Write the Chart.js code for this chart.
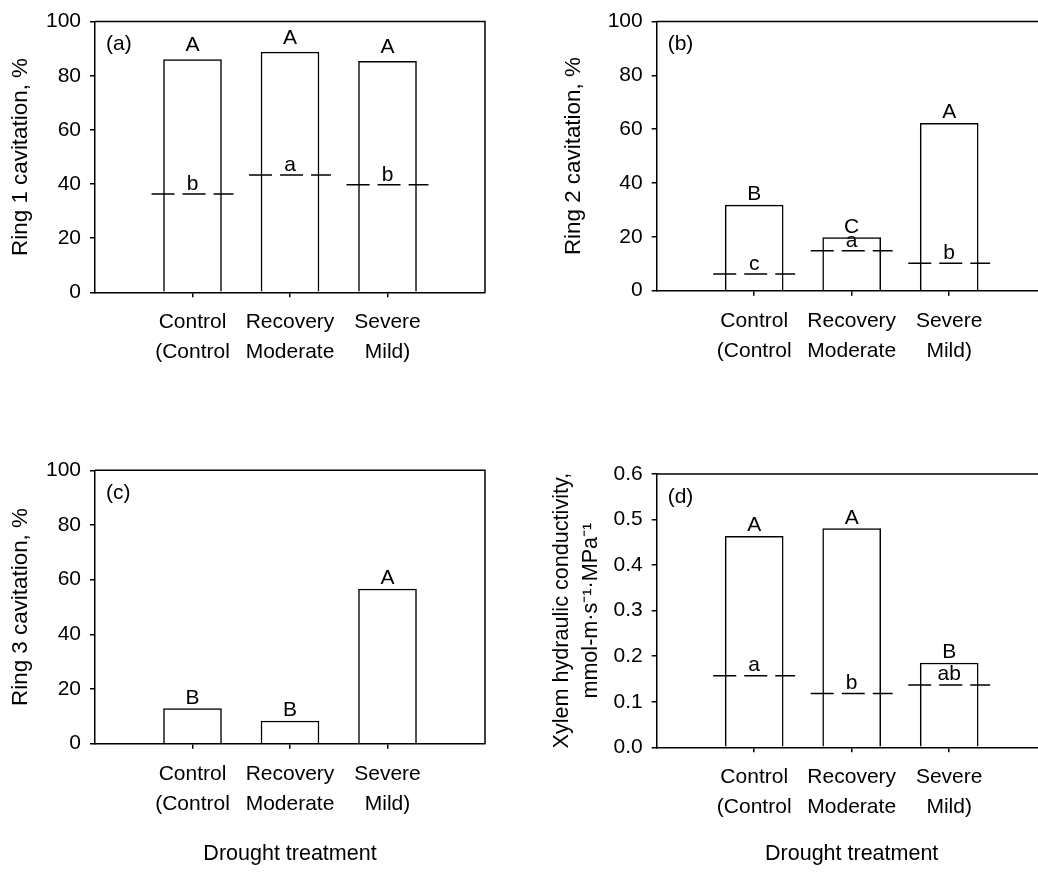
<!DOCTYPE html>
<html>
<head>
<meta charset="utf-8">
<script src="https://cdn.jsdelivr.net/npm/chart.js@4.4.0/dist/chart.umd.min.js"></script>
<style>
  html, body { margin: 0; padding: 0; background: #ffffff; overflow: hidden; width: 1038px; height: 876px; }
  canvas { position: absolute; }
</style>
</head>
<body>
<canvas id="panelA" width="520" height="440" style="left:0px;top:0px"></canvas>
<canvas id="panelB" width="600" height="440" style="left:520px;top:0px"></canvas>
<canvas id="panelC" width="520" height="436" style="left:0px;top:440px"></canvas>
<canvas id="panelD" width="600" height="436" style="left:520px;top:440px"></canvas>
<script>
// ---------------- data ----------------
const categories = ['Control', 'Recovery', 'Severe'];
const categoriesLine2 = ['(Control', 'Moderate', 'Mild)'];

const ring1Bars = [86.0, 88.7, 85.3];
const ring1Dash = [36.3, 43.3, 39.7];
const ring1BarLetters = ['A', 'A', 'A'];
const ring1DashLetters = ['b', 'a', 'b'];

const ring2Bars = [31.8, 19.7, 62.2];
const ring2Dash = [6.2, 14.8, 10.2];
const ring2BarLetters = ['B', 'C', 'A'];
const ring2DashLetters = ['c', 'a', 'b'];

const ring3Bars = [12.8, 8.3, 56.6];
const ring3BarLetters = ['B', 'B', 'A'];

const conductBars = [0.463, 0.480, 0.185];
const conductDash = [0.157, 0.118, 0.137];
const conductBarLetters = ['A', 'A', 'B'];
const conductDashLetters = ['a', 'b', 'ab'];

const percentTicks = [0, 20, 40, 60, 80, 100];
const conductTicks = [0.0, 0.1, 0.2, 0.3, 0.4, 0.5, 0.6];

// ---------------- styling ----------------
const FONT = 'Liberation Sans, Arial, Helvetica, sans-serif';
const INK = '#000000';

const framePlugin = {
  id: 'frame',
  beforeDatasetsDraw(chart) {
    const { ctx, chartArea: a } = chart;
    ctx.save();
    ctx.strokeStyle = INK;
    ctx.lineWidth = 1.5;
    ctx.beginPath();
    ctx.moveTo(a.left, a.top);
    ctx.lineTo(a.right, a.top);
    ctx.lineTo(a.right, a.bottom);
    ctx.stroke();
    ctx.restore();
  }
};

const lettersPlugin = {
  id: 'letters',
  afterDatasetsDraw(chart, args, opts) {
    const { ctx, chartArea: a } = chart;
    const xs = chart.scales.x, ys = chart.scales.y;
    ctx.save();
    ctx.fillStyle = INK;
    ctx.font = '21px ' + FONT;
    ctx.textAlign = 'center';
    ctx.textBaseline = 'alphabetic';
    (opts.bars || []).forEach((v, i) => {
      const l = opts.barLetters[i];
      ctx.fillText(l, xs.getPixelForValue(i + 1), ys.getPixelForValue(v) - opts.barGap);
    });
    (opts.dash || []).forEach((v, i) => {
      const l = opts.dashLetters[i];
      ctx.fillText(l, xs.getPixelForValue(i + 1), ys.getPixelForValue(v) - opts.dashGap);
    });
    ctx.textAlign = 'left';
    ctx.textBaseline = 'middle';
    ctx.fillText(opts.panel, a.left + 11, a.top + 23);
    ctx.restore();
  }
};

function makePanel(id, cfg) {
  const datasets = [{
    type: 'bar',
    data: cfg.bars.map((v, i) => ({ x: i + 1, y: v })),
    backgroundColor: '#ffffff',
    borderColor: INK,
    borderWidth: 1.5,
    barThickness: 58,
    order: 2
  }];
  (cfg.dash || []).forEach((v, i) => {
    datasets.push({
      type: 'line',
      data: [{ x: i + 1 - 0.42, y: v }, { x: i + 1 + 0.42, y: v }],
      borderColor: INK,
      borderWidth: 1.5,
      borderDash: [23, 8],
      borderCapStyle: 'butt',
      pointRadius: 0,
      fill: false,
      order: 1
    });
  });

  return new Chart(document.getElementById(id), {
    type: 'bar',
    data: { datasets },
    plugins: [framePlugin, lettersPlugin],
    options: {
      responsive: false,
      animation: false,
      devicePixelRatio: 1,
      layout: { padding: { left: 0, top: cfg.padTop, right: cfg.padRight, bottom: 0 } },
      plugins: {
        legend: { display: false },
        tooltip: { enabled: false },
        letters: {
          bars: cfg.bars, dash: cfg.dash,
          barLetters: cfg.barLetters, dashLetters: cfg.dashLetters,
          barGap: cfg.barGap, dashGap: cfg.dashGap, panel: cfg.panel
        }
      },
      scales: {
        x: {
          type: 'linear',
          min: 0, max: 4,
          offset: false,
          afterBuildTicks: s => { s.ticks = categories.map((c, i) => ({ value: i + 1 })); },
          afterFit: s => { s.height = cfg.xHeight; },
          ticks: {
            color: INK,
            padding: 10,
            maxRotation: 0,
            autoSkip: false,
            font: { family: FONT, size: 21, lineHeight: 1.43 },
            callback: v => [categories[v - 1], categoriesLine2[v - 1]]
          },
          grid: { display: true, offset: false, drawOnChartArea: false, drawTicks: true, tickLength: 5, color: INK, lineWidth: 1.5 },
          border: { display: true, color: INK, width: 1.5 },
          title: {
            display: !!cfg.xTitle,
            text: cfg.xTitle || '',
            color: INK,
            font: { family: FONT, size: 21.5, lineHeight: 1.2 },
            padding: { top: 0, bottom: 9.4 }
          }
        },
        y: {
          type: 'linear',
          min: cfg.yTicks[0], max: cfg.yTicks[cfg.yTicks.length - 1],
          afterBuildTicks: s => { s.ticks = cfg.yTicks.map(v => ({ value: v })); },
          afterFit: s => { s.width = cfg.yWidth; },
          ticks: {
            color: INK,
            padding: 9,
            font: { family: FONT, size: 21 },
            callback: v => cfg.tickFmt(v)
          },
          grid: { display: true, drawOnChartArea: false, drawTicks: true, tickLength: 5, color: INK, lineWidth: 1.5 },
          border: { display: true, color: INK, width: 1.5 },
          title: {
            display: true,
            text: cfg.yTitle,
            color: INK,
            font: { family: FONT, size: cfg.yTitleSize, lineHeight: 29 / cfg.yTitleSize },
            padding: { top: cfg.yTitlePad, bottom: 0 }
          }
        }
      }
    }
  });
}

const pctFmt = v => String(v);
const decFmt = v => Number(v).toFixed(1);

makePanel('panelA', {
  bars: ring1Bars, dash: ring1Dash, barLetters: ring1BarLetters, dashLetters: ring1DashLetters,
  yTicks: percentTicks, tickFmt: pctFmt, yTitle: 'Ring 1 cavitation, %', panel: '(a)',
  yWidth: 95, padTop: 19, padRight: 35, xHeight: 147.7, yTitlePad: 6.5, yTitleSize: 22.4, barGap: 8, dashGap: 4
});
makePanel('panelB', {
  bars: ring2Bars, dash: ring2Dash, barLetters: ring2BarLetters, dashLetters: ring2DashLetters,
  yTicks: percentTicks, tickFmt: pctFmt, yTitle: 'Ring 2 cavitation, %', panel: '(b)',
  yWidth: 136.7, padTop: 18.3, padRight: 73.3, xHeight: 149.3, yTitlePad: 39.5, yTitleSize: 22.4, barGap: 5, dashGap: 4
});
makePanel('panelC', {
  bars: ring3Bars, barLetters: ring3BarLetters,
  yTicks: percentTicks, tickFmt: pctFmt, yTitle: 'Ring 3 cavitation, %', panel: '(c)',
  xTitle: 'Drought treatment',
  yWidth: 95, padTop: 30.3, padRight: 35, xHeight: 132.3, yTitlePad: 6.5, yTitleSize: 22.4, barGap: 5, dashGap: 4
});
makePanel('panelD', {
  bars: conductBars, dash: conductDash, barLetters: conductBarLetters, dashLetters: conductDashLetters,
  yTicks: conductTicks, tickFmt: decFmt,
  yTitle: ['Xylem hydraulic conductivity,', 'mmol-m\u00B7s\u207B\u00B9\u00B7MPa\u207B\u00B9'], panel: '(d)',
  xTitle: 'Drought treatment',
  yWidth: 136.7, padTop: 34, padRight: 73.3, xHeight: 128.7, yTitlePad: 27.5, yTitleSize: 21.6, barGap: 5, dashGap: 5
});
</script>
</body>
</html>
